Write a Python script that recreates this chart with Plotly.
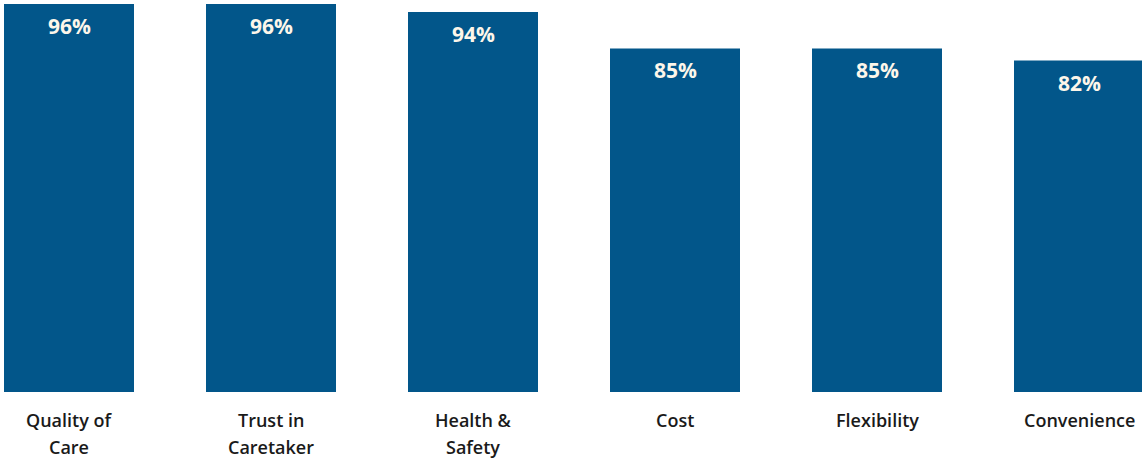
import plotly.graph_objects as go

categories = ["Quality of<br>Care", "Trust in<br>Caretaker", "Health &<br>Safety",
              "Cost", "Flexibility", "Convenience"]
values = [96, 96, 94, 85, 85, 82]
value_labels = ["96%", "96%", "94%", "85%", "85%", "82%"]

bar_color = "#02568A"
label_font = "Open Sans"

fig = go.Figure()
fig.add_trace(go.Bar(
    x=list(range(len(categories))),
    y=values,
    marker=dict(color=bar_color, line=dict(width=0)),
    width=130 / 202,
    hoverinfo="skip",
))

# value labels inside the top of each bar
for i, (v, lab) in enumerate(zip(values, value_labels)):
    fig.add_annotation(
        x=i, y=v, xref="x", yref="y", text=lab, showarrow=False,
        yanchor="top", yshift=-6,
        font=dict(family=label_font, size=21, color="#FDF6EA", weight=700),
    )

# category labels, one annotation per line
for i, cat in enumerate(categories):
    for j, line in enumerate(cat.split("<br>")):
        fig.add_annotation(
            x=i, y=0, xref="x", yref="y", text=line, showarrow=False,
            yanchor="middle", yshift=-28 - 27 * j,
            font=dict(family=label_font, size=18, color="#1A1A1A", weight=600),
        )

fig.update_layout(
    width=1142, height=459,
    margin=dict(l=0, r=0, t=0, b=67),
    paper_bgcolor="white", plot_bgcolor="white",
    showlegend=False,
    xaxis=dict(range=[-69 / 202, (1142 - 69) / 202], showticklabels=False,
               showgrid=False, zeroline=False, fixedrange=True),
    yaxis=dict(range=[0, 97], visible=False, showgrid=False, zeroline=False,
               fixedrange=True),
)

fig.write_html("out.html")
